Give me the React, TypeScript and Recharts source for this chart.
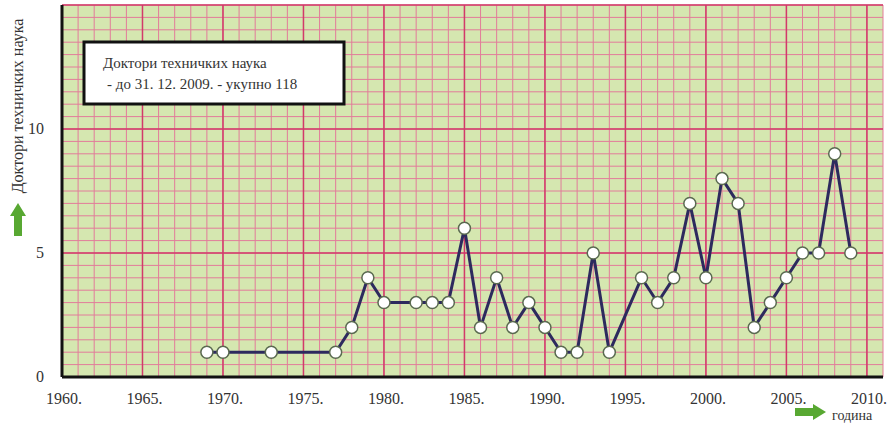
import {
	CartesianGrid,
	Line,
	LineChart,
	ReferenceLine,
	XAxis,
	YAxis,
} from "recharts";

const godine = [
	1969, 1970, 1973, 1977, 1978, 1979, 1980, 1982, 1983, 1984, 1985, 1986, 1987,
	1988, 1989, 1990, 1991, 1992, 1993, 1994, 1996, 1997, 1998, 1999, 2000, 2001,
	2002, 2003, 2004, 2005, 2006, 2007, 2008, 2009,
];
const doktori = [
	1, 1, 1, 1, 2, 4, 3, 3, 3, 3, 6, 2, 4, 2, 3, 2, 1, 1, 5, 1, 4, 3, 4, 7, 4, 8,
	7, 2, 3, 4, 5, 5, 9, 5,
];
const xTicks = Array.from({ length: 52 }, (_, i) => 1960 + i);
const yTicks = Array.from({ length: 31 }, (_, i) => i * 0.5);
const xMajor = [1965, 1970, 1975, 1980, 1985, 1990, 1995, 2000, 2005, 2010];
const yMajor = [5, 10, 15];
const xLabels = [1960, 1965, 1970, 1975, 1980, 1985, 1990, 1995, 2000, 2005, 2010];
const yLabels = [0, 5, 10];

const podaci = godine.map((g, i) => ({ godina: g, broj: doktori[i] }));

const serif = { fontFamily: "'Liberation Serif', 'Times New Roman', 'DejaVu Serif', serif" };

const XTick = (props: any) => {
	const { x, y, payload } = props;
	if (!xLabels.includes(payload.value)) return null;
	return (
		<text x={x + 2} y={y + 19} textAnchor='middle' fontSize={16} fill='#333' style={serif}>
			{payload.value + "."}
		</text>
	);
};

const YTick = (props: any) => {
	const { x, y, payload } = props;
	if (!yLabels.includes(payload.value)) return null;
	return (
		<text x={x - 10} y={y + 5} textAnchor='end' fontSize={16} fill='#333' style={serif}>
			{payload.value}
		</text>
	);
};

const App = () => {
	return (
		<div style={{ position: "absolute", left: 0, top: 0, width: 888, height: 424, background: "#fff" }}>
			<LineChart
				width={888}
				height={424}
				data={podaci}
				margin={{ top: 5, right: 5, left: 0, bottom: 0 }}
			>
				<CartesianGrid
					fill='#d5e7b0'
					stroke='#e27c9a'
					strokeWidth={1}
					strokeDasharray=''
				/>
				{xMajor.map((v) => (
					<ReferenceLine key={"x" + v} x={v} stroke='#d23a6a' strokeWidth={1.5} />
				))}
				{yMajor.map((v) => (
					<ReferenceLine key={"y" + v} y={v} stroke='#d23a6a' strokeWidth={1.5} />
				))}
				<XAxis
					dataKey='godina'
					type='number'
					domain={[1960, 2011]}
					ticks={xTicks}
					interval={0}
					tick={<XTick />}
					tickLine={false}
					axisLine={{ stroke: "#111", strokeWidth: 3 }}
					height={47}
				/>
				<YAxis
					type='number'
					domain={[0, 15]}
					ticks={yTicks}
					interval={0}
					tick={<YTick />}
					tickLine={false}
					axisLine={{ stroke: "#111", strokeWidth: 3 }}
					width={62}
				/>
				<Line
					type='linear'
					dataKey='broj'
					stroke='#2d2a5e'
					strokeWidth={3}
					dot={{ r: 6, fill: "#fff", stroke: "#5a6a50", strokeWidth: 1.5 }}
					isAnimationActive={false}
				/>
			</LineChart>
			<svg
				width={888}
				height={424}
				style={{ position: "absolute", left: 0, top: 0, pointerEvents: "none" }}
			>
				<text
					transform='translate(23,106) rotate(-90)'
					textAnchor='middle'
					fontSize={16}
					fill='#333'
					style={serif}
				>
					Доктори техничких наука
				</text>
				<polygon points='18,203 10,216 14,216 14,236 22,236 22,216 26,216' fill='#58a832' />
				<polygon points='826,412 813,404 813,408 795,408 795,416 813,416 813,420' fill='#58a832' />
				<text x={832} y={420} fontSize={14} fill='#333' style={serif}>
					година
				</text>
				<rect x={84} y={42} width={260} height={62} fill='#fff' stroke='#111' strokeWidth={3} />
				<text x={103} y={68} fontSize={15} fill='#333' style={serif}>
					Доктори техничких наука
				</text>
				<text x={107} y={89} fontSize={15} fill='#333' style={serif}>
					- до 31. 12. 2009. - укупно 118
				</text>
			</svg>
		</div>
	);
};

export default App;
